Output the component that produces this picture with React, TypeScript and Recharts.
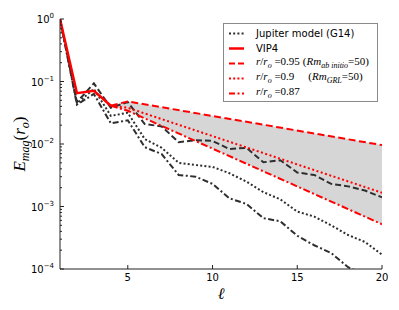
import React from 'react';
import { ComposedChart, Line, Area, XAxis, YAxis, Legend } from 'recharts';

// harmonic degree
const ell = [1, 2, 3, 4, 5, 6, 7, 8, 9, 10, 11, 12, 13, 14, 15, 16, 17, 18, 19, 20];

// Jupiter model (G14) at three radii
const g14r095 = [1, 0.0468, 0.0933, 0.038, 0.0468, 0.0209, 0.0191, 0.0107, 0.0115, 0.0112, 0.0083, 0.0087, 0.0051, 0.0055, 0.0035, 0.0032, 0.0023, 0.0021, 0.0018, 0.0014];
const g14r090 = [1, 0.0447, 0.0759, 0.0282, 0.0316, 0.012, 0.0087, 0.005, 0.0046, 0.0043, 0.0034, 0.0025, 0.0017, 0.0013, 0.00083, 0.00069, 0.0005, 0.00035, 0.00027, 0.00017];
const g14r087 = [1, 0.0427, 0.0631, 0.0214, 0.024, 0.0089, 0.0069, 0.0032, 0.003, 0.0023, 0.00135, 0.0011, 0.00065, 0.00058, 0.00034, 0.00024, 0.00018, 0.000107, 0.00008, 0.000056];

// VIP4 up to degree 4
const vip4 = [1, 0.065, 0.071, 0.041];

// extrapolated spectra
const extL = [4, 5, 20];
const ext095 = [0.041, 0.048, 0.0096];
const ext090 = [0.041, 0.038, 0.00166];
const ext087 = [0.041, 0.034, 0.00052];

const xTicks = [5, 10, 15, 20];
const yMajor = [0.0001, 0.001, 0.01, 0.1, 1];
const minorSteps = [2, 3, 4, 5, 6, 7, 8, 9];
const yTicks = [...yMajor];
yMajor.slice(0, 4).forEach((m) => minorSteps.forEach((s) => yTicks.push(+(m * s).toPrecision(3))));

const data = ell.map((l, i) => {
  const j = extL.indexOf(l);
  return {
    l,
    g095: g14r095[i],
    g090: g14r090[i],
    g087: g14r087[i],
    vip4: i < vip4.length ? vip4[i] : undefined,
    e095: j >= 0 ? ext095[j] : undefined,
    e090: j >= 0 ? ext090[j] : undefined,
    e087: j >= 0 ? ext087[j] : undefined,
    band: j >= 0 ? [ext087[j], ext095[j]] : undefined,
  };
});

const PLOT = { left: 52, right: 374, top: 11, bottom: 261 };
const AXIS = '#222';
const BLACK = '#2e2e2e';
const RED = '#ff0000';
const SANS = '"DejaVu Sans", sans-serif';
const SERIF = '"Liberation Serif", serif';

const DOT = '2 2.2';
const DASH = '6 3';
const DASHDOT = '6 2.5 2 2.5';

const isMajor = (v: number) => yMajor.includes(v);

const LeftTick = ({ y, payload }: any) => {
  const v = payload.value;
  const major = isMajor(v);
  const exp = Math.round(Math.log10(v));
  return (
    <g>
      <line x1={PLOT.left} x2={PLOT.left + (major ? 4 : 2)} y1={y} y2={y} stroke={AXIS} />
      {major && (
        <text x={PLOT.left - 6} y={y + 4} textAnchor="end" fontFamily={SANS} fontSize={10} fill="#000">
          10
          <tspan dy={-5} fontSize={7}>
            {exp === 0 ? '0' : '\u2212' + Math.abs(exp)}
          </tspan>
        </text>
      )}
    </g>
  );
};

const RightTick = ({ y, payload }: any) => {
  const major = isMajor(payload.value);
  return <line x1={PLOT.right} x2={PLOT.right - (major ? 4 : 2)} y1={y} y2={y} stroke={AXIS} />;
};

const BottomTick = ({ x, payload }: any) => (
  <g>
    <line x1={x} x2={x} y1={PLOT.bottom} y2={PLOT.bottom - 4} stroke={AXIS} />
    <text x={x} y={PLOT.bottom + 12} textAnchor="middle" fontFamily={SANS} fontSize={10} fill="#000">
      {payload.value}
    </text>
  </g>
);

const TopTick = ({ x }: any) => <line x1={x} x2={x} y1={PLOT.top} y2={PLOT.top + 4} stroke={AXIS} />;

const XTitle = () => (
  <text x={213} y={291} textAnchor="middle" fontFamily='"DejaVu Serif", serif' fontStyle="italic" fontSize={16} fill="#000">
    ℓ
  </text>
);

const YTitle = () => (
  <text
    x={17}
    y={136}
    transform="rotate(-90 17 136)"
    textAnchor="middle"
    fontFamily={SERIF}
    fontStyle="italic"
    fontSize={17}
    fill="#000"
  >
    E
    <tspan fontSize={12} dy={4}>
      mag
    </tspan>
    <tspan dy={-4} fontStyle="normal">
      (
    </tspan>
    r
    <tspan fontSize={12} dy={4}>
      o
    </tspan>
    <tspan dy={-4} fontStyle="normal">
      )
    </tspan>
  </text>
);

const Ratio = ({ v }: { v: string }) => (
  <span style={{ fontFamily: SERIF, fontSize: 11 }}>
    <i>r</i>/<i>r</i>
    <sub style={{ fontSize: 8 }}>
      <i>o</i>
    </sub>{' '}
    ={v}
  </span>
);

const legendRows = [
  { color: BLACK, dash: DOT, width: 2, label: <span>Jupiter model (G14)</span> },
  { color: RED, dash: undefined, width: 2.5, label: <span>VIP4</span> },
  {
    color: RED,
    dash: DASH,
    width: 2,
    label: (
      <span>
        <Ratio v="0.95" />
        <span style={{ fontFamily: SERIF, fontSize: 11, marginLeft: 3 }}>
          (<i>Rm</i>
          <sub style={{ fontSize: 8 }}>
            <i>ab initio</i>
          </sub>
          =50)
        </span>
      </span>
    ),
  },
  {
    color: RED,
    dash: DOT,
    width: 2,
    label: (
      <span>
        <Ratio v="0.9" />
        <span style={{ fontFamily: SERIF, fontSize: 11, marginLeft: 14 }}>
          (<i>Rm</i>
          <sub style={{ fontSize: 8 }}>
            <i>GRL</i>
          </sub>
          =50)
        </span>
      </span>
    ),
  },
  { color: RED, dash: DASHDOT, width: 2, label: <Ratio v="0.87" /> },
];

const LegendBox = () => (
  <div
    style={{
      width: 155,
      height: 79,
      boxSizing: 'border-box',
      border: '1px solid #8a8a8a',
      background: '#fff',
      paddingTop: 2,
      fontFamily: SANS,
      fontSize: 10,
      color: '#000',
    }}
  >
    {legendRows.map((r, i) => (
      <div key={i} style={{ height: 15, display: 'flex', alignItems: 'center', lineHeight: '15px', whiteSpace: 'nowrap' }}>
        <svg width={32} height={15} style={{ flex: 'none' }}>
          <line x1={5} x2={20} y1={7.5} y2={7.5} stroke={r.color} strokeWidth={r.width} strokeDasharray={r.dash} />
        </svg>
        {r.label}
      </div>
    ))}
  </div>
);

export default function App() {
  return (
    <div style={{ fontFamily: SANS }}>
      <ComposedChart width={391} height={300} data={data} margin={{ top: 11, right: 17, bottom: 9, left: 7 }}>
        <XAxis
          xAxisId="b"
          dataKey="l"
          type="number"
          domain={[1, 20]}
          allowDataOverflow
          ticks={xTicks}
          interval={0}
          height={30}
          axisLine={{ stroke: AXIS }}
          tickLine={false}
          tick={<BottomTick />}
          label={<XTitle />}
        />
        <XAxis
          xAxisId="t"
          orientation="top"
          dataKey="l"
          type="number"
          domain={[1, 20]}
          allowDataOverflow
          ticks={[5, 10, 15]}
          interval={0}
          height={0}
          axisLine={{ stroke: AXIS }}
          tickLine={false}
          tick={<TopTick />}
        />
        <YAxis
          yAxisId="l"
          type="number"
          scale="log"
          domain={[0.0001, 1]}
          allowDataOverflow
          ticks={yTicks}
          interval={0}
          width={45}
          axisLine={{ stroke: AXIS }}
          tickLine={false}
          tick={<LeftTick />}
          label={<YTitle />}
        />
        <YAxis
          yAxisId="r"
          orientation="right"
          type="number"
          scale="log"
          domain={[0.0001, 1]}
          allowDataOverflow
          ticks={yTicks}
          interval={0}
          width={0}
          axisLine={{ stroke: AXIS }}
          tickLine={false}
          tick={<RightTick />}
        />
        <Area
          xAxisId="b"
          yAxisId="l"
          dataKey="band"
          stroke="none"
          fill="#d6d6d6"
          fillOpacity={1}
          connectNulls
          isAnimationActive={false}
          activeDot={false}
        />
        <Line xAxisId="b" yAxisId="l" dataKey="g090" stroke={BLACK} strokeWidth={2} strokeDasharray={DOT} dot={false} activeDot={false} isAnimationActive={false} />
        <Line xAxisId="b" yAxisId="l" dataKey="g095" stroke={BLACK} strokeWidth={2} strokeDasharray={DASH} dot={false} activeDot={false} isAnimationActive={false} />
        <Line xAxisId="b" yAxisId="l" dataKey="g087" stroke={BLACK} strokeWidth={2} strokeDasharray={DASHDOT} dot={false} activeDot={false} isAnimationActive={false} />
        <Line xAxisId="b" yAxisId="l" dataKey="vip4" stroke={RED} strokeWidth={2.5} dot={false} activeDot={false} connectNulls={false} isAnimationActive={false} />
        <Line xAxisId="b" yAxisId="l" dataKey="e095" stroke={RED} strokeWidth={2} strokeDasharray="7 3.5" dot={false} activeDot={false} connectNulls isAnimationActive={false} />
        <Line xAxisId="b" yAxisId="l" dataKey="e090" stroke={RED} strokeWidth={2} strokeDasharray="2 2.5" dot={false} activeDot={false} connectNulls isAnimationActive={false} />
        <Line xAxisId="b" yAxisId="l" dataKey="e087" stroke={RED} strokeWidth={2} strokeDasharray="7 2.5 2 2.5" dot={false} activeDot={false} connectNulls isAnimationActive={false} />
        <Legend
          layout="horizontal"
          align="center"
          verticalAlign="middle"
          wrapperStyle={{ left: 215, top: 15, width: 155, height: 79 }}
          content={<LegendBox />}
        />
      </ComposedChart>
    </div>
  );
}
